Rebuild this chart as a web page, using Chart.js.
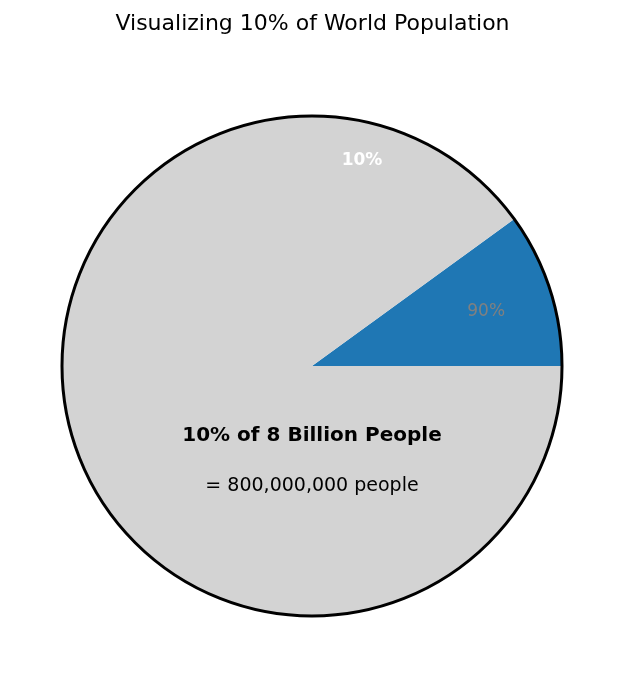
<!DOCTYPE html>
<html>
<head>
<meta charset="utf-8">
<script src="https://cdn.jsdelivr.net/npm/chart.js@4"></script>
<style>
  body { margin: 0; background: #fff; }
  #wrap { width: 625px; height: 679px; }
</style>
</head>
<body>
<div id="wrap"><canvas id="chart"></canvas></div>
<script>
const categories = ['10%', '90%']
const values = [10, 90]
const sliceColors = ['#1f77b4', '#d3d3d3']
// labels as they appear on the picture (swapped vs slices)
const pctLabels = ['90%', '10%']

// draws title, outline, percent labels and the centre text
const overlay = {
    id: 'overlay',
    afterDraw(chart) {
        const ctx = chart.ctx
        const arc = chart.getDatasetMeta(0).data[0]
        const cx = arc.x, cy = arc.y, r = arc.outerRadius

        ctx.save()
        ctx.beginPath()
        ctx.arc(cx, cy, r, 0, Math.PI * 2)
        ctx.lineWidth = 3
        ctx.strokeStyle = '#000'
        ctx.stroke()

        ctx.textAlign = 'center'
        ctx.textBaseline = 'middle'
        ctx.fillStyle = '#000'
        ctx.font = '22px "DejaVu Sans"'
        ctx.fillText('Visualizing 10% of World Population', chart.width / 2, 24)

        // percent labels
        const a1 = -17.4 * Math.PI / 180
        ctx.font = '17px "DejaVu Sans"'
        ctx.fillStyle = '#808080'
        ctx.fillText(pctLabels[0], cx + Math.cos(a1) * r * 0.73, cy + Math.sin(a1) * r * 0.73)
        const a2 = -76.3 * Math.PI / 180
        ctx.font = 'bold 17px "DejaVu Sans"'
        ctx.fillStyle = '#fff'
        ctx.fillText(pctLabels[1], cx + Math.cos(a2) * r * 0.844, cy + Math.sin(a2) * r * 0.844)

        ctx.fillStyle = '#000'
        ctx.font = 'bold 20px "DejaVu Sans"'
        ctx.fillText('10% of 8 Billion People', cx, cy + r * 0.28)
        ctx.font = '19px "DejaVu Sans"'
        ctx.fillText('= 800,000,000 people', cx, cy + r * 0.48)
        ctx.restore()
    }
}

new Chart(document.getElementById('chart'), {
    type: 'pie',
    data: {
        labels: categories,
        datasets: [{
            data: values,
            backgroundColor: sliceColors,
            borderWidth: 0
        }]
    },
    options: {
        responsive: true,
        maintainAspectRatio: false,
        animation: false,
        rotation: 54,
        layout: { padding: { top: 116, bottom: 63, left: 62, right: 63 } },
        plugins: {
            legend: { display: false },
            tooltip: { enabled: false }
        }
    },
    plugins: [overlay]
})
</script>
</body>
</html>
